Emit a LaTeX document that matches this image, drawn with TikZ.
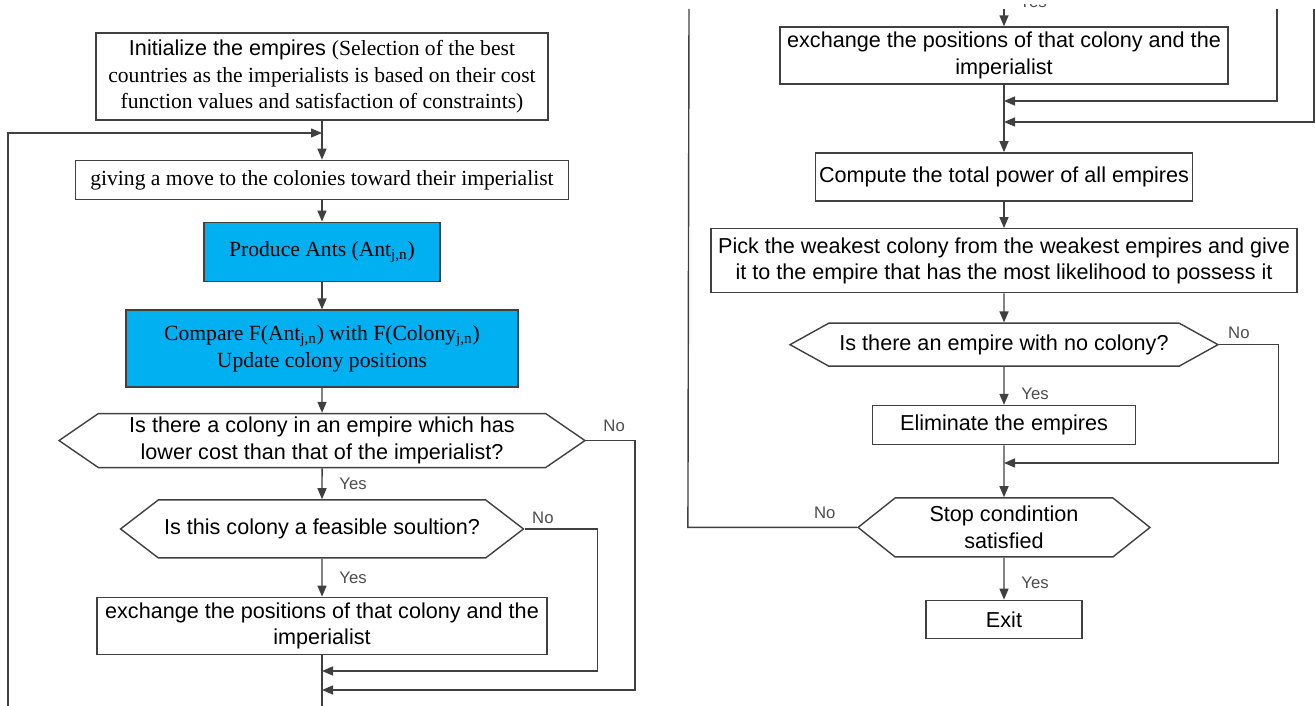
\documentclass[tikz,border=0pt]{standalone}
\usepackage{fontspec}
\setmainfont{Liberation Serif}
\setsansfont{Liberation Sans}
\usetikzlibrary{arrows.meta, positioning, shapes.symbols}

\definecolor{antblue}{HTML}{00B0F0}
\definecolor{lineclr}{HTML}{404040}

\tikzset{
  box/.style={draw=lineclr, line width=0.8pt, align=center, inner sep=0pt,
    font=\sffamily\fontsize{12.3}{15}\selectfont},
  serifbox/.style={box, font=\rmfamily\fontsize{12.3}{15}\selectfont},
  antbox/.style={serifbox, fill=antblue},
  decide/.style={box, shape=signal, signal to=west and east},
  lbl/.style={font=\sffamily\fontsize{9.5}{11}\selectfont, text=black!70, inner sep=1pt},
  flow/.style={draw=lineclr, line width=0.8pt, -{Triangle[length=0.22cm, width=0.18cm]}},
  wire/.style={draw=lineclr, line width=0.8pt},
}

\begin{document}
\begin{tikzpicture}[x=0.02cm, y=-0.02cm]
	\useasboundingbox (0,0) rectangle (1315,706);

	% left column
	\node[box, minimum width=9.04cm, minimum height=1.74cm] (init) at (322,76.5)
		{Initialize the empires {\rmfamily(Selection of the best}\\
		 {\rmfamily countries as the imperialists is based on their cost}\\
		 {\rmfamily function values and satisfaction of constraints)}};
	\node[serifbox, minimum width=9.86cm, minimum height=0.78cm] (give) [below=0.78cm of init]
		{giving a move to the colonies toward their imperialist};
	\node[antbox, minimum width=4.72cm, minimum height=1.18cm] (ants) [below=0.43cm of give]
		{Produce Ants (Ant\textsubscript{j,n})};
	\node[antbox, minimum width=7.84cm, minimum height=1.54cm] (cmp) [below=0.55cm of ants]
		{Compare F(Ant\textsubscript{j,n}) with F(Colony\textsubscript{j,n})\\Update colony positions};
	\node[decide, signal pointer angle=69, minimum width=10.52cm, minimum height=1.08cm] (lower) [below=0.5cm of cmp]
		{Is there a colony in an empire which has\\lower cost than that of the imperialist?};
	\node[decide, signal pointer angle=75, minimum width=8.06cm, minimum height=1.16cm] (feas) [below=0.62cm of lower]
		{Is this colony a feasible soultion?};
	\node[box, minimum width=9cm, minimum height=1.14cm] (swapA) [below=0.76cm of feas]
		{exchange the positions of that colony and the\\imperialist};

	\coordinate (loopTop) at (322,133);
	\coordinate (loopBot) at (8,706);
	\coordinate (mergeA) at (322,671);
	\coordinate (mergeB) at (322,690);
	\coordinate (axisEnd) at (322,706);

	\draw[flow] (init) -- (give);
	\draw[flow] (loopBot) |- (loopTop);
	\draw[flow] (give) -- (ants);
	\draw[flow] (ants) -- (cmp);
	\draw[flow] (cmp) -- (lower);
	\draw[flow] (lower) -- node[lbl, right=0.3cm] {Yes} (feas);
	\draw[flow] (feas) -- node[lbl, right=0.3cm] {Yes} (swapA);
	\draw[flow] (feas.east) -- node[lbl, above=0.06cm, pos=0.25] {No} ++(73,0) |- (mergeA);
	\draw[flow] (lower.east) -- node[lbl, above=0.12cm, pos=0.57] {No} ++(49,0) |- (mergeB);
	\draw[wire] (swapA) -- (axisEnd);

	% right column
	\node[box, minimum width=8.96cm, minimum height=1.14cm] (swapB) at (1004,55.5)
		{exchange the positions of that colony and the\\imperialist};
	\node[box, minimum width=7.54cm, minimum height=0.96cm] (power) [below=1.35cm of swapB]
		{Compute the total power of all empires};
	\node[box, minimum width=11.72cm, minimum height=1.28cm] (pick) [below=0.53cm of power]
		{Pick the weakest colony from the weakest empires and give\\it to the empire that has the most likelihood to possess it};
	\node[decide, signal pointer angle=58, minimum width=8.56cm, minimum height=0.86cm] (empty) [below=0.58cm of pick]
		{Is there an empire with no colony?};
	\node[box, minimum width=5.26cm, minimum height=0.78cm] (elim) [below=0.76cm of empty]
		{Eliminate the empires};
	\node[decide, signal pointer angle=77, minimum width=5.84cm, minimum height=1.18cm] (stop) [below=1.04cm of elim]
		{Stop condintion\\satisfied};
	\node[box, minimum width=3.12cm, minimum height=0.76cm] (exit) [below=0.84cm of stop]
		{Exit};

	\coordinate (topB) at (1004,9);
	\coordinate (retA) at (1277,9);
	\coordinate (retB) at (1314,9);
	\coordinate (loopR) at (689,9);
	\coordinate (mergeC) at (1004,101);
	\coordinate (mergeD) at (1004,122);
	\coordinate (mergeE) at (1004,463);

	\begin{scope}
		\clip (0,5) rectangle (1315,706);
		\node[lbl] (yesTop) at (1033,2) {Yes};
	\end{scope}
	\draw[flow] (topB) -- (swapB);
	\draw[flow] (retA) |- (mergeC);
	\draw[flow] (retB) |- (mergeD);
	\draw[flow] (swapB) -- (power);
	\draw[flow] (power) -- (pick);
	\draw[flow] (pick) -- (empty);
	\draw[flow] (empty) -- node[lbl, right=0.3cm, pos=0.7] {Yes} (elim);
	\draw[flow] (empty.east) -- node[lbl, above=0.08cm, pos=0.33] {No} ++(59,0) |- (mergeE);
	\draw[flow] (elim) -- (stop);
	\draw[wire] (stop.west) -- node[lbl, above=0.12cm, pos=0.19] {No} ++(-169,0) -- (loopR);
	\draw[flow] (stop) -- node[lbl, right=0.3cm, pos=0.6] {Yes} (exit);
\end{tikzpicture}
\end{document}
